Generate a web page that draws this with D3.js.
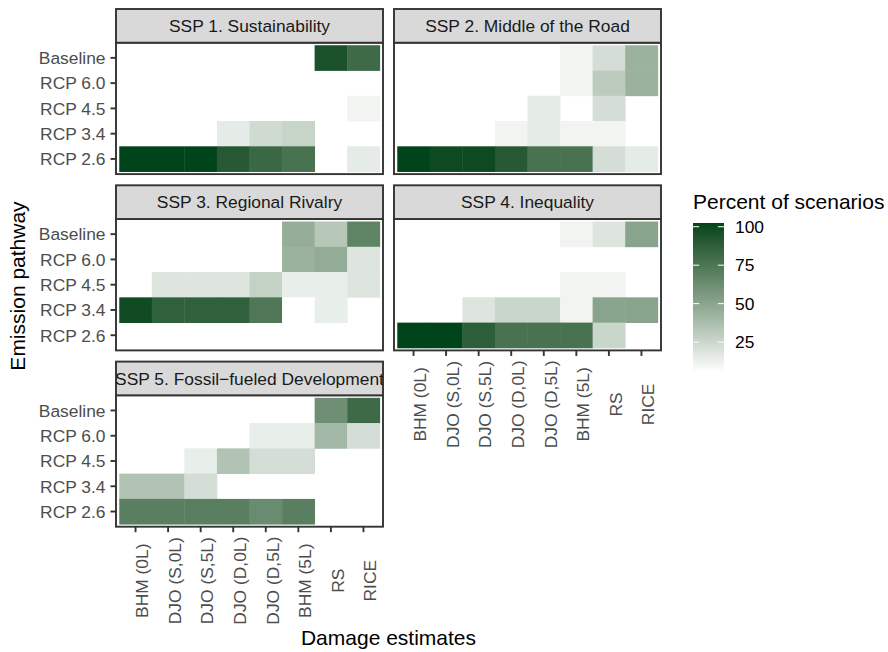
<!DOCTYPE html>
<html><head><meta charset="utf-8">
<script src="https://cdn.jsdelivr.net/npm/d3@7"></script>
<style>body{margin:0;background:#fff}text{font-family:"Liberation Sans",Arial,Helvetica,sans-serif}</style>
</head><body><svg id="c" width="888" height="652"></svg>
<script>
const damage = ["BHM (0L)","DJO (S,0L)","DJO (S,5L)","DJO (D,0L)","DJO (D,5L)","BHM (5L)","RS","RICE"];
const pathways = ["Baseline","RCP 6.0","RCP 4.5","RCP 3.4","RCP 2.6"];
const sspNames = ["SSP 1. Sustainability","SSP 2. Middle of the Road","SSP 3. Regional Rivalry","SSP 4. Inequality","SSP 5. Fossil\u2212fueled Development"];
const n = null;
// rows follow pathways, columns follow damage
const ssp1 = [[n,n,n,n,n,n,93,80],[n,n,n,n,n,n,n,n],[n,n,n,n,n,n,n,13],[n,n,n,17,25,28,n,n],[100,100,100,89,81,76,n,17]];
const ssp2 = [[n,n,n,n,n,13,23,44],[n,n,n,n,n,13,32,44],[n,n,n,n,17,n,23,n],[n,n,n,13,17,13,13,n],[100,97,97,89,76,76,23,17]];
const ssp3 = [[n,n,n,n,n,46,34,67],[n,n,n,n,n,44,47,20],[8,20,20,20,29,16,16,20],[96,85,85,85,73,8,16,n],[n,n,n,n,n,n,n,n]];
const ssp4 = [[n,n,n,n,n,13,20,51],[n,n,n,n,n,n,n,n],[n,n,n,n,n,13,13,n],[n,n,20,27,27,13,51,51],[100,100,86,76,76,76,27,n]];
const ssp5 = [[n,n,n,n,8,n,61,80],[n,n,n,n,16,16,41,23],[n,n,16,36,23,23,n,n],[36,36,23,n,n,n,n,n],[69,69,69,69,63,69,n,n]];
const legendTicks = [25,50,75,100];
const panels = [ssp1,ssp2,ssp3,ssp4,ssp5];

const FS = 17.4;
const svg = d3.select("#c");
svg.append("rect").attr("width",888).attr("height",652).attr("fill","#fff");
const all = panels.flat(2).filter(v=>v!==null);
const vmin = d3.min(all), vmax = d3.max(all);
const color = d3.scaleLinear().domain([vmin,vmax]).range(["#ffffff","#00441b"]).interpolate(d3.interpolateLab);

const colX = [116,394], panelW = 267;
const rowTop = [9,185.3,361.6], stripH = 33.7, panelH = 131.4;
const x = d3.scaleBand().domain(damage).range([0,panelW]).paddingInner(0).paddingOuter(0.1);
const y = d3.scaleBand().domain(pathways).range([0,panelH]).paddingInner(0).paddingOuter(0.1);
const defs = svg.append("defs");

panels.forEach((data,i)=>{
  const c = i%2, r = Math.floor(i/2);
  const px = colX[c], st = rowTop[r], py = st+stripH;
  const g = svg.append("g").attr("transform",`translate(${px},${py})`);
  const cells = [];
  data.forEach((row,ri)=>row.forEach((v,ci)=>{ if(v!==null) cells.push({p:pathways[ri],d:damage[ci],v}); }));
  g.selectAll("rect.t").data(cells).join("rect").attr("class","t")
    .attr("x",d=>x(d.d)).attr("y",d=>y(d.p))
    .attr("width",x.bandwidth()+0.4).attr("height",y.bandwidth()+0.4)
    .attr("fill",d=>color(d.v));
  g.append("rect").attr("width",panelW).attr("height",panelH).attr("fill","none").attr("stroke","#333333").attr("stroke-width",1.9);
  // strip
  const cid = "clip"+i;
  defs.append("clipPath").attr("id",cid).append("rect").attr("x",px).attr("y",st).attr("width",panelW).attr("height",stripH);
  svg.append("rect").attr("x",px).attr("y",st).attr("width",panelW).attr("height",stripH).attr("fill","#d9d9d9").attr("stroke","#333333").attr("stroke-width",1.9);
  svg.append("text").attr("clip-path",`url(#${cid})`).attr("x",px+panelW/2).attr("y",st+stripH/2).attr("dy","0.36em")
    .attr("text-anchor","middle").attr("font-size",FS).attr("fill","#1a1a1a").text(sspNames[i]);
  // y axis on left column
  if(c===0){
    const ya = g.append("g").call(d3.axisLeft(y).tickSize(5.5).tickPadding(5));
    ya.select(".domain").remove();
    ya.selectAll("line").attr("stroke","#333333").attr("stroke-width",1.9);
    ya.selectAll("text").attr("font-size",FS).attr("fill","#4d4d4d").attr("dy","0.36em");
  }
  // x axis where no panel below
  if(i===3 || i===4){
    const xa = g.append("g").attr("transform",`translate(0,${panelH})`).call(d3.axisBottom(x).tickSize(5.5).tickFormat(""));
    xa.select(".domain").remove();
    xa.selectAll("line").attr("stroke","#333333").attr("stroke-width",1.9);
    xa.selectAll(".tick").append("text")
      .attr("transform","translate(12.8,54) rotate(-90)")
      .attr("text-anchor","middle").attr("font-size",FS).attr("fill","#4d4d4d").attr("font-family","Liberation Sans, Arial, sans-serif")
      .text(d=>d);
  }
});

// axis titles
svg.append("text").attr("x",388.5).attr("y",645).attr("text-anchor","middle").attr("font-size",21).attr("fill","#000").text("Damage estimates");
svg.append("text").attr("transform","translate(25,286) rotate(-90)").attr("text-anchor","middle").attr("font-size",21).attr("fill","#000").text("Emission pathway");

// legend
const lx = 693, ly = 223, lw = 31, lh = 149, half = lh/40;
svg.append("text").attr("x",lx).attr("y",208.5).attr("font-size",21).attr("fill","#000").text("Percent of scenarios");
const grad = defs.append("linearGradient").attr("id","lg").attr("x1",0).attr("y1",1).attr("x2",0).attr("y2",0);
d3.range(0,1.0001,0.05).forEach(t=>grad.append("stop").attr("offset",t).attr("stop-color",color(vmin+t*(vmax-vmin))));
svg.append("rect").attr("x",lx).attr("y",ly).attr("width",lw).attr("height",lh).attr("fill","url(#lg)");
const ls = d3.scaleLinear().domain([vmin,vmax]).range([ly+lh-half, ly+half]);
legendTicks.forEach(t=>{
  svg.append("line").attr("x1",lx).attr("x2",lx+lw/5).attr("y1",ls(t)).attr("y2",ls(t)).attr("stroke","#fff").attr("stroke-width",1);
  svg.append("line").attr("x1",lx+lw*4/5).attr("x2",lx+lw).attr("y1",ls(t)).attr("y2",ls(t)).attr("stroke","#fff").attr("stroke-width",1);
  svg.append("text").attr("x",735).attr("y",ls(t)).attr("dy","0.36em").attr("font-size",FS).attr("fill","#000").text(t);
});
</script></body></html>
